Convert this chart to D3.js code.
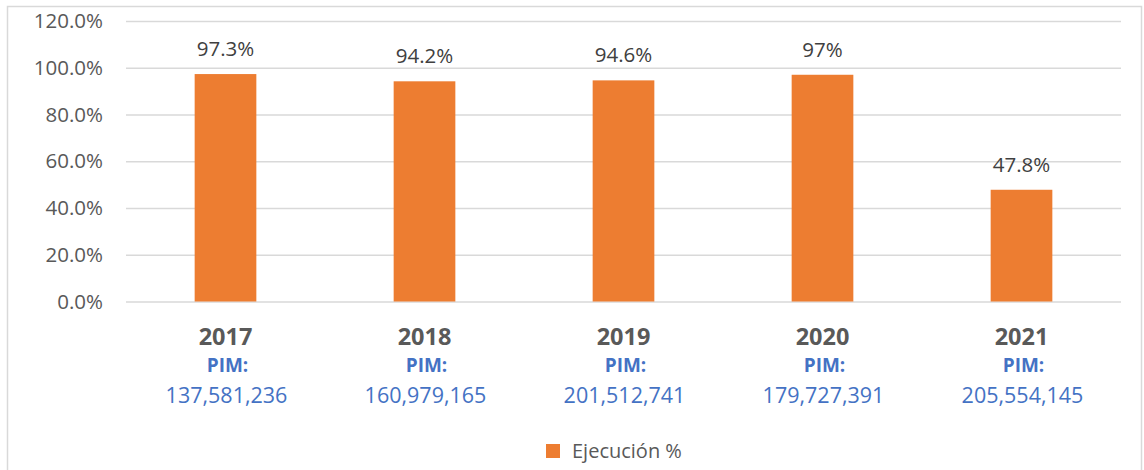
<!DOCTYPE html>
<html>
<head>
<meta charset="utf-8">
<script src="https://cdn.jsdelivr.net/npm/d3@7"></script>
<style>
  body { margin: 0; background: #fff; }
  svg { display: block; font-family: "Open Sans", sans-serif; }
</style>
</head>
<body>
<div id="chart"></div>
<script>
// data
const years = ['2017', '2018', '2019', '2020', '2021']
const ejecucion = [97.3, 94.2, 94.6, 97, 47.8]
const valueLabels = ['97.3%', '94.2%', '94.6%', '97%', '47.8%']
const pim = ['137,581,236', '160,979,165', '201,512,741', '179,727,391', '205,554,145']
const yTicks = [0, 20, 40, 60, 80, 100, 120]
const legendLabel = 'Ejecución %'

const width = 1144,
  height = 470
const plotLeft = 126, plotRight = 1121, plotTop = 21, plotBottom = 301.5

const svg = d3.select('#chart')
  .append('svg')
  .attr('width', width)
  .attr('height', height)

// outer frame
svg.append('rect')
  .attr('x', 7.5).attr('y', 6.5)
  .attr('width', 1134).attr('height', 490)
  .attr('fill', 'none')
  .attr('stroke', '#d9d9d9')
  .attr('stroke-width', 1.5)

const x = d3.scaleBand()
  .domain(years)
  .range([plotLeft, plotRight])
  .paddingInner(0.69)
  .paddingOuter(0.345)

const xc = d3.scaleBand().domain(years).range([plotLeft, plotRight])

const y = d3.scaleLinear()
  .domain([0, 120])
  .range([plotBottom, plotTop])

// gridlines + y labels
const yAxis = svg.append('g')
  .attr('transform', `translate(${plotLeft},0)`)
  .call(d3.axisLeft(y).tickValues(yTicks)
    .tickSize(-(plotRight - plotLeft))
    .tickPadding(23)
    .tickFormat(d => d.toFixed(1) + '%'))
yAxis.select('.domain').remove()
yAxis.selectAll('line').attr('stroke', '#d9d9d9').attr('stroke-width', 1.5)
yAxis.selectAll('text')
  .attr('fill', '#595959')
  .style('font-size', '20.5px')
  .style('font-family', '"Open Sans", sans-serif')

// bars
svg.selectAll('rect.bar')
  .data(ejecucion)
  .enter()
  .append('rect')
  .attr('class', 'bar')
  .attr('fill', '#ed7d31')
  .attr('x', (d, i) => x(years[i]))
  .attr('width', x.bandwidth())
  .attr('y', d => y(d))
  .attr('height', d => plotBottom - y(d))

// value labels
svg.selectAll('text.val')
  .data(ejecucion)
  .enter()
  .append('text')
  .attr('class', 'val')
  .attr('x', (d, i) => xc(years[i]) + xc.bandwidth() / 2)
  .attr('y', d => y(d) - 18)
  .attr('text-anchor', 'middle')
  .attr('fill', '#404040')
  .style('font-size', '20.5px')
  .text((d, i) => valueLabels[i])

// category labels: year, PIM:, amount
const cat = svg.selectAll('g.cat')
  .data(years)
  .enter()
  .append('g')
  .attr('class', 'cat')
  .attr('transform', d => `translate(${xc(d) + xc.bandwidth() / 2},0)`)

cat.append('text')
  .attr('y', 345)
  .attr('text-anchor', 'middle')
  .attr('fill', '#595959')
  .style('font-size', '23.5px')
  .style('font-weight', 'bold')
  .text(d => d)

cat.append('text')
  .attr('y', 372)
  .attr('x', 2)
  .attr('text-anchor', 'middle')
  .attr('fill', '#4472c4')
  .style('font-size', '19px')
  .style('font-weight', 'bold')
  .text('PIM:')

cat.append('text')
  .attr('y', 403)
  .attr('x', 1)
  .attr('text-anchor', 'middle')
  .attr('fill', '#4472c4')
  .style('font-size', '21.5px')
  .text((d, i) => pim[i])

// legend
const lg = svg.append('g').attr('transform', 'translate(546,444)')
lg.append('rect')
  .attr('width', 14).attr('height', 14)
  .attr('fill', '#ed7d31')
lg.append('text')
  .attr('x', 26).attr('y', 14)
  .attr('fill', '#595959')
  .style('font-size', '20px')
  .text(legendLabel)
</script>
</body>
</html>
